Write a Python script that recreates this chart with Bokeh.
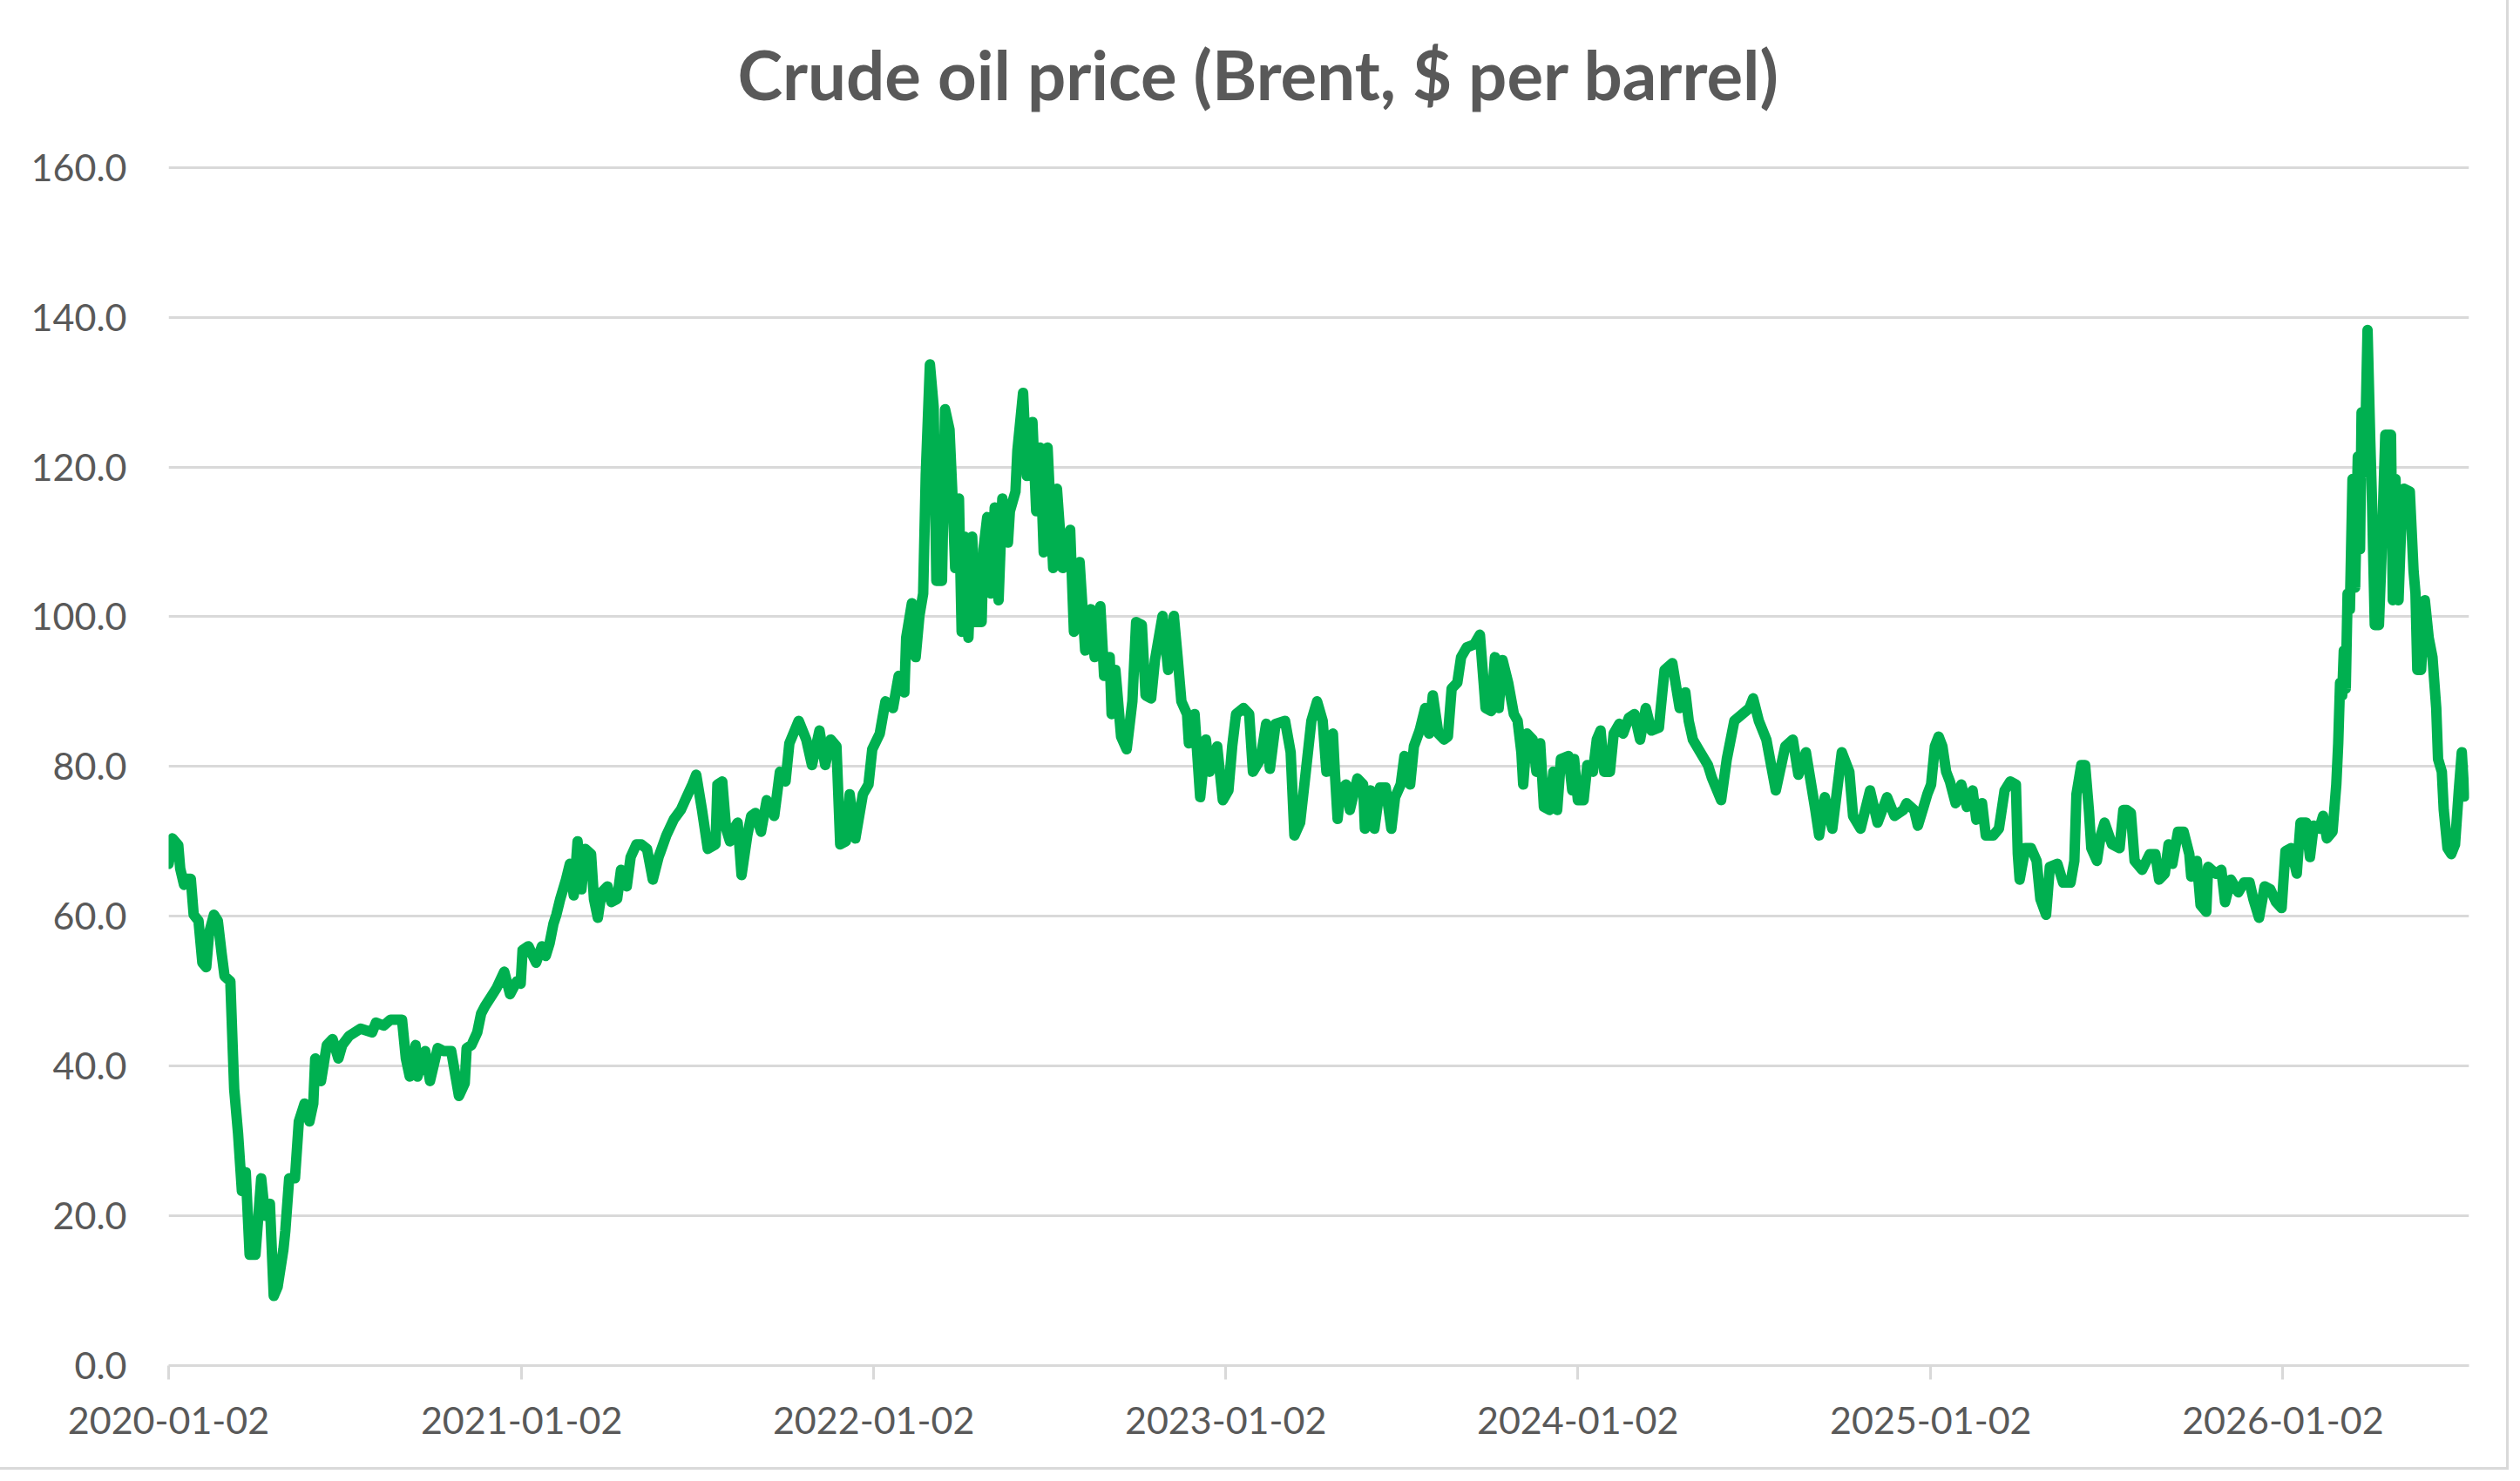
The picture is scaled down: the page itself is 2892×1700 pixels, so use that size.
import pandas as pd
from datetime import datetime
from bokeh.plotting import figure
from bokeh.models import Range1d, FixedTicker, NumeralTickFormatter, DatetimeTickFormatter
from bokeh.embed import file_html
from bokeh.resources import INLINE

title_text = "Crude oil price (Brent, $ per barrel)"
start_date = "2020-01-02"

# days after 2020-01-02
days = [
    0, 4, 10, 12, 16, 19, 23, 26, 31, 35, 39, 42, 47, 51, 55, 58, 64, 68, 72, 76,
    80, 84, 90, 96, 100, 105, 109, 113, 119, 121, 125, 131, 135, 141, 146, 150, 152, 158, 164, 170,
    176, 180, 187, 199, 211, 215, 223, 230, 242, 246, 250, 256, 258, 266, 271, 279, 285, 293, 301, 307,
    309, 314, 320, 324, 328, 336, 340, 348, 354, 361, 365, 367, 373, 381, 387, 391, 395, 399, 402, 406,
    412, 416, 420, 424, 428, 432, 438, 441, 445, 449, 455, 459, 465, 469, 475, 479, 485, 490, 496, 502,
    508, 516, 524, 531, 537, 543, 547, 553, 559, 567, 569, 574, 578, 582, 586, 590, 594, 600, 604,
    608.4, 614.2, 620.1, 627.9, 633.8, 639.6, 643.6, 653.3, 661.1, 667, 674.8, 680.7, 686.5, 692.4, 696.3,
    702.2, 706.1, 712, 719.8, 725.6, 729.5, 737.3, 743.2, 751, 756.9, 762.8, 764.7, 770.6, 774.5, 778.4,
    782.3, 785, 789.3, 793.2, 796, 801.8, 805, 809.6, 812.8, 815.5, 819.4, 822.2, 825.3, 829.2, 833.1,
    837, 842.9, 844.8, 848.7, 852.6, 856.5, 860.5, 864.4, 870.2, 872.2, 878, 880, 885.9, 889.8, 895.6,
    899.5, 903.4, 907.3, 911.3, 917.1, 921, 926.9, 934.7, 938.6, 944.5, 950.3, 956.2, 960.1, 966, 969.9,
    975.7, 977.7, 981.6, 987.5, 993.3, 999.2, 1003.1, 1009, 1012.9, 1018.7, 1022.6, 1030.5, 1036.3, 1042.2,
    1046.1, 1050, 1055.9, 1057.8, 1063.7, 1069.5, 1075.4, 1079.3, 1087.1, 1093, 1098.8, 1102.7, 1106.7,
    1114.5, 1120.3, 1124.2, 1132.1, 1137.9, 1141.8, 1147.7, 1157.5, 1163.3, 1167.2, 1173.1, 1179, 1184.8,
    1190.7, 1196.5, 1200.4,
    1203.2, 1207.1, 1209.1, 1212, 1214.9, 1220.8, 1224.7, 1232.5, 1238.4, 1240.3, 1246.2, 1250.1, 1256,
    1261.8, 1267.7, 1271.6, 1277.4, 1281.3, 1287.2, 1291.1, 1297, 1302.8, 1306.7, 1310.7, 1316.5, 1322.4,
    1326.3, 1330.2, 1336.1, 1340, 1345.8, 1353.6, 1359.5, 1363.4, 1365.4, 1371.2, 1375.1, 1379, 1383,
    1388.8, 1394.7, 1398.6, 1402.5, 1404.4, 1408.4, 1414.2, 1418.1, 1422, 1425.9, 1431.8, 1435.7, 1439.6,
    1443.5, 1451.3, 1455.3, 1457.2, 1461.1, 1467, 1470.9, 1476.7, 1480.7, 1484.6, 1488.5, 1494.3, 1498.2,
    1504.1, 1508, 1513.9, 1519.7, 1525.6, 1531.5, 1537.3, 1545.1, 1547, 1551, 1559, 1566.6, 1572.5, 1576,
    1580.3, 1588, 1595.9, 1600, 1609.6, 1615.5, 1623.3, 1638.9, 1642.8, 1648.7, 1656.5, 1666.3, 1676.1,
    1683.9, 1689.7, 1697.5, 1707.3, 1711.2, 1717.1, 1724.9, 1734.7, 1742.5, 1746.4, 1754.2, 1764, 1771.8,
    1781.6, 1789.4, 1798.4,
    1801.9, 1809.7, 1813.6, 1819.5, 1823.4, 1827.3, 1831.2, 1835.1, 1839, 1842.9, 1846.8, 1852.7, 1858.6,
    1864.4, 1870.3, 1874.2, 1880.1, 1884, 1891.8, 1897.6, 1903.5, 1909.4, 1915.2, 1917.2, 1919.1, 1925,
    1930.9, 1936.7, 1940.6, 1946.5, 1950.4, 1958.2, 1964.1, 1971.9, 1975.8, 1978, 1983, 1987, 1991, 1993.4,
    1999.2, 2003.2, 2007.1, 2014.9, 2022.7, 2026.6, 2030, 2034.4, 2038.3, 2046.1, 2054, 2059.8, 2063.7,
    2069.6, 2073.5, 2077.4, 2083.3, 2089.1, 2095, 2097, 2102.8, 2106.7, 2112.6, 2114.5, 2122.4, 2128.2,
    2132.1, 2138, 2145.8, 2151.7, 2157.5, 2161.4, 2167.3, 2173.1, 2179, 2184.9, 2190.7, 2194.7, 2200.5,
    2206.4, 2210.3, 2216.2, 2220.1, 2224, 2229.8, 2233.7, 2237.6, 2243.5, 2247.4, 2249.4, 2251.3, 2253.5,
    2255.2, 2257.2, 2259.1, 2261.5, 2264.2, 2266.9, 2269.7, 2272, 2273.6, 2276.7, 2279.8, 2282.6, 2284.5,
    2287.3, 2291.6, 2294.3, 2298.2, 2304.1, 2306, 2308.8, 2311.9, 2315, 2317.7, 2323.6, 2327.5, 2329.5,
    2331.4, 2335.3, 2339.2, 2343.2, 2347.1, 2351, 2352.9, 2356.8, 2358.8, 2362.7, 2366.6, 2370.5, 2374.4,
    2377.5, 2380.2,
]

prices = [
    67.0, 70.4, 69.5, 66.4, 64.2, 65.0, 65.0, 60.2, 59.4, 53.8, 53.2, 57.8, 60.2, 59.4, 55.0, 52.0, 51.3, 36.9, 31.0, 23.3,
    25.8, 14.8, 14.8, 25.0, 20.0, 21.6, 9.3, 10.5, 15.5, 18.0, 25.0, 25.0, 32.6, 35.0, 32.6, 35.0, 41.0, 38.0, 42.8, 43.6,
    41.0, 42.8, 44.0, 45.0, 44.5, 45.8, 45.4, 46.2, 46.2, 41.0, 38.6, 42.8, 38.6, 42.0, 38.0, 42.4, 42.0, 42.0, 36.0, 37.7,
    42.4, 42.8, 44.5, 47.0, 48.0, 49.6, 50.4, 52.6, 49.6, 51.3, 51.0, 55.5, 56.0, 53.8, 56.0, 54.7, 56.4, 59.0, 60.2, 62.3,
    64.9, 67.0, 62.8, 70.0, 63.6, 69.0, 68.3, 62.3, 59.8, 63.2, 64.0, 61.9, 62.3, 66.2, 64.0, 67.9, 69.6, 69.6, 69.0, 64.9,
    67.9, 70.8, 73.0, 74.2, 75.9, 77.6, 78.9, 74.2, 69.0, 69.6, 77.6, 78.0, 71.7, 70.0, 71.7, 72.5, 65.5, 70.8, 73.4,
    73.8, 71.3, 75.5, 73.4, 79.3, 78.0, 83.1, 86.1, 83.6, 80.2, 84.8, 80.2, 83.6, 82.7, 69.6,
    70.0, 76.3, 70.4, 76.3, 77.6, 82.3, 84.4, 88.7, 87.8, 92.1, 89.9, 97.2, 101.8, 94.6, 100.1,
    103.1, 119.0, 133.7, 128.0, 104.8, 104.8, 127.7, 125.0, 115.8, 106.5, 115.8, 98.0, 110.7, 97.2, 110.7,
    99.3, 99.3, 109.0, 113.3, 103.1, 114.6, 102.2, 115.8, 109.9, 114.1, 116.7, 122.2, 129.9, 118.8, 126.0,
    114.1, 122.6, 108.6, 122.6, 106.5, 117.1, 106.5, 111.6, 98.0, 107.3, 95.5, 101.0, 94.6, 101.4, 92.1,
    94.6, 87.0, 92.9, 84.0, 82.3, 88.7, 99.3, 98.9, 89.5, 89.1, 94.2, 100.1, 92.9, 100.1,
    94.6, 88.7, 87.0, 83.1, 87.0, 75.9, 83.6, 79.3, 82.7, 75.5, 76.8, 82.7, 87.0,
    87.8, 87.0, 79.3, 81.0, 85.7, 79.7, 85.7, 86.1, 81.9, 70.8, 72.5, 79.3, 86.1,
    88.7, 86.1, 79.3,
    83.6, 84.4, 79.3, 73.0, 76.8, 77.6, 74.2, 78.4, 77.6, 71.7, 76.8, 71.7, 77.2,
    77.2, 71.7, 75.9, 77.6, 81.4, 77.6, 82.7, 84.8, 87.8, 84.4, 89.5, 84.4, 83.6,
    84.0, 90.4, 91.2, 94.6, 95.9, 96.3, 97.6, 91.2, 87.8, 87.4, 94.6, 87.8, 94.2,
    91.2, 87.0, 86.1, 81.9, 77.6, 84.4, 83.6, 79.3, 83.1, 74.6, 74.2, 79.3, 74.2,
    81.0, 81.4, 76.8, 81.0, 75.5, 75.5, 80.2, 79.3, 83.6, 84.8, 79.3, 79.3, 84.4,
    85.7, 84.4, 86.5, 87.0, 83.6, 87.8, 84.8, 85.2, 87.8, 92.9, 93.8, 87.8, 89.9, 86.1,
    83.6, 81.9, 80.2, 78.5, 75.5, 81.0, 86.1, 87.8, 89.1, 86.1, 83.6, 76.8, 82.7,
    83.6, 78.9, 81.9, 74.2, 70.8, 75.9, 71.7, 81.9, 79.3, 73.4, 71.7, 76.8, 72.5,
    75.9, 73.4, 74.2,
    75.1, 74.2, 72.1, 74.6, 76.3, 77.6, 82.7, 84.0, 82.7, 79.3, 78.0, 75.1, 77.6,
    74.6, 76.8, 72.9, 75.1, 70.8, 70.8, 71.7, 76.8, 78.0, 77.6, 68.3, 64.9, 69.1,
    69.1, 67.4, 62.3, 60.2, 66.6, 67.0, 64.5, 64.5, 67.4, 76.3, 80.2, 80.2, 74.0, 69.1,
    67.4, 70.8, 72.5, 69.6, 69.1, 74.2, 74.2, 73.8, 67.4, 66.2, 68.3, 68.3, 64.9,
    65.7, 69.6, 67.0, 71.3, 71.3, 68.3, 65.3, 67.4, 61.5, 60.6, 66.6, 65.7, 66.2,
    61.9, 64.9, 63.2, 64.5, 64.5, 62.3, 59.8, 64.0, 63.6, 61.9, 61.1, 68.7, 69.1,
    65.7, 72.5, 72.5, 67.9, 72.1, 71.7, 73.4, 70.4, 71.3, 77.6, 83.1, 91.2, 89.5,
    95.5, 90.4, 103.1, 101.0, 118.4, 103.9, 121.4, 109.0, 127.3, 119.2, 138.3, 123.5, 115.0,
    98.9, 98.9, 108.2, 124.3, 124.3, 102.2, 118.4, 102.2, 113.3, 117.1, 116.7, 106.1, 103.1,
    92.9, 92.9, 102.2, 97.2, 94.6, 87.8, 81.0, 79.3, 74.2, 69.1, 68.3, 69.6, 76.8,
    81.9, 76.0,
]

year_ticks = ["2020-01-02", "2021-01-02", "2022-01-02", "2023-01-02", "2024-01-02", "2025-01-02", "2026-01-02"]
y_ticks = [0, 20, 40, 60, 80, 100, 120, 140, 160]

dates = pd.Timestamp(start_date) + pd.to_timedelta(days, unit="D")

TEXT = "#595959"
GRID = "#d9d9d9"
FONT = "Lato"

p = figure(
    width=2876, height=1684,
    x_axis_type="datetime",
    x_range=Range1d(datetime(2020, 1, 2), datetime(2026, 7, 14)),
    y_range=Range1d(0, 160.2),
    output_backend="svg", toolbar_location=None,
    min_border_left=193, min_border_right=43, min_border_top=190, min_border_bottom=117,
)
p.styles = {"outline": "3px solid #d9d9d9"}
p.background_fill_color = "white"
p.border_fill_color = "white"
p.outline_line_color = None

p.title.text = title_text
p.title.text_font = FONT
p.title.text_font_style = "bold"
p.title.text_font_size = "78px"
p.title.text_color = TEXT
p.title.align = "left"
p.title.offset = 653
p.title.vertical_align = "bottom"
p.title.standoff = 0
p.title.padding = (0, 0, 0, 59)

p.line(x=dates, y=prices, line_width=12, line_color="#00b050", line_join="round", line_cap="round")

# y axis
p.yaxis.ticker = FixedTicker(ticks=y_ticks)
p.yaxis.formatter = NumeralTickFormatter(format="0.0")
p.yaxis.axis_line_color = None
p.yaxis.major_tick_line_color = None
p.yaxis.minor_tick_line_color = None
p.yaxis.major_label_text_font = FONT
p.yaxis.major_label_text_font_size = "43px"
p.yaxis.major_label_text_color = TEXT
p.yaxis.major_label_standoff = 42

# x axis
tick_ms = [pd.Timestamp(t).value // 10**6 for t in year_ticks]
p.xaxis.ticker = FixedTicker(ticks=tick_ms)
fmt = "%Y-%m-%d"
p.xaxis.formatter = DatetimeTickFormatter(
    milliseconds=fmt, seconds=fmt, minsec=fmt, minutes=fmt, hourmin=fmt, hours=fmt,
    days=fmt, months=fmt, years=fmt,
)
p.xaxis.axis_line_color = GRID
p.xaxis.axis_line_width = 3
p.xaxis.major_tick_line_color = GRID
p.xaxis.major_tick_line_width = 3
p.xaxis.major_tick_out = 16
p.xaxis.major_tick_in = 0
p.xaxis.minor_tick_line_color = None
p.xaxis.major_label_text_font = FONT
p.xaxis.major_label_text_font_size = "43px"
p.xaxis.major_label_text_color = TEXT
p.xaxis.major_label_standoff = 31

p.xgrid.grid_line_color = None
p.ygrid.grid_line_color = GRID
p.ygrid.grid_line_width = 3

open("out.html", "w").write(file_html(p, INLINE))
